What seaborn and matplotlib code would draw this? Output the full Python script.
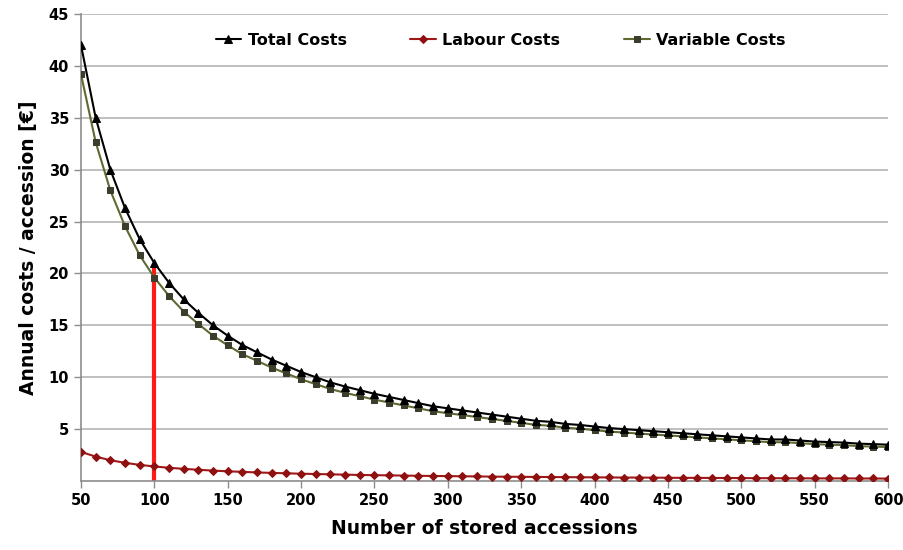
import numpy as np
import pandas as pd
import matplotlib
matplotlib.use("Agg")
import matplotlib.pyplot as plt
import seaborn as sns

# number of stored accessions (every 10)
accessions = list(range(50, 610, 10))

total_costs = [42.0, 35.0, 30.0, 26.3, 23.3, 21.0, 19.1, 17.5, 16.2, 15.0,
               14.0, 13.1, 12.4, 11.7, 11.1, 10.5, 10.0, 9.5, 9.1, 8.75,
               8.4, 8.1, 7.8, 7.5, 7.2, 7.0, 6.8, 6.6, 6.4, 6.2,
               6.0, 5.8, 5.7, 5.5, 5.4, 5.25, 5.1, 5.0, 4.9, 4.8,
               4.7, 4.6, 4.5, 4.4, 4.3, 4.2, 4.1, 4.0, 4.0, 3.9,
               3.8, 3.75, 3.7, 3.6, 3.55, 3.5]

labour_costs = [2.8, 2.35, 2.0, 1.75, 1.55, 1.4, 1.27, 1.17, 1.08, 1.0,
                0.93, 0.88, 0.82, 0.78, 0.74, 0.7, 0.67, 0.64, 0.61, 0.58,
                0.56, 0.54, 0.52, 0.5, 0.48, 0.47, 0.45, 0.44, 0.42, 0.41,
                0.4, 0.39, 0.38, 0.37, 0.36, 0.35, 0.34, 0.33, 0.33, 0.32,
                0.31, 0.3, 0.3, 0.29, 0.29, 0.28, 0.27, 0.27, 0.26, 0.26,
                0.25, 0.25, 0.25, 0.24, 0.24, 0.23]

variable_costs = [39.2, 32.65, 28.0, 24.55, 21.75, 19.6, 17.83, 16.33, 15.12, 14.0,
                  13.07, 12.22, 11.58, 10.92, 10.36, 9.8, 9.33, 8.86, 8.49, 8.17,
                  7.84, 7.56, 7.28, 7.0, 6.72, 6.53, 6.35, 6.16, 5.98, 5.79,
                  5.6, 5.41, 5.32, 5.13, 5.04, 4.9, 4.76, 4.67, 4.57, 4.48,
                  4.39, 4.3, 4.2, 4.11, 4.01, 3.92, 3.83, 3.73, 3.74, 3.64,
                  3.55, 3.5, 3.45, 3.36, 3.31, 3.27]

marked_accessions = 100

df = pd.DataFrame({"accessions": accessions, "total": total_costs,
                   "labour": labour_costs, "variable": variable_costs})

sns.set_theme(style="white")
plt.rcParams['font.family'] = ['DejaVu Sans']
plt.rcParams['font.weight'] = 'bold'
plt.rcParams['text.color'] = 'black'
plt.rcParams['axes.labelcolor'] = 'black'
plt.rcParams['xtick.color'] = 'black'
plt.rcParams['ytick.color'] = 'black'

fig = plt.figure(figsize=(9.04, 5.5), dpi=100)
ax = fig.add_axes([0.0896, 0.1255, 0.8927, 0.849])

# horizontal grid
ax.set_ylim(0, 45)
ax.set_xlim(50, 600)
ax.set_yticks(range(5, 50, 5))
ax.set_xticks(range(50, 650, 50))
ax.yaxis.grid(True, color='#b4b4b4', linewidth=1.2)
ax.set_axisbelow(True)

# red marker line at 100 accessions
idx = accessions.index(marked_accessions)
ax.vlines(marked_accessions, 0, total_costs[idx], color='#ff1a1a', linewidth=3, zorder=2)

sns.lineplot(data=df, x="accessions", y="variable", ax=ax, color='#5d6a30', linewidth=1.5,
             marker='s', markersize=4.5, markerfacecolor='#3c3d2c', markeredgecolor='#3c3d2c',
             label="Variable Costs", zorder=3)
sns.lineplot(data=df, x="accessions", y="labour", ax=ax, color='#a01818', linewidth=1.5,
             marker='D', markersize=4, markerfacecolor='#8e1010', markeredgecolor='#8e1010',
             label="Labour Costs", zorder=3)
sns.lineplot(data=df, x="accessions", y="total", ax=ax, color='black', linewidth=1.5,
             marker='^', markersize=6, markerfacecolor='black', markeredgecolor='black',
             label="Total Costs", zorder=4)

for s in ['top', 'right']:
    ax.spines[s].set_visible(False)
for s in ['left', 'bottom']:
    ax.spines[s].set_color('#8c8c8c')
    ax.spines[s].set_linewidth(1.2)
ax.tick_params(axis='both', which='major', length=5, width=1, color='#8c8c8c',
               labelcolor='black', labelsize=10.5, direction='out', bottom=True, left=True)
for lab in ax.get_xticklabels() + ax.get_yticklabels():
    lab.set_fontweight('bold')

ax.set_xlabel("Number of stored accessions", fontsize=13.5, fontweight='bold', labelpad=8)
ax.set_ylabel("Annual costs / accession [\u20ac]", fontsize=13.5, fontweight='bold', labelpad=8)

handles, labels = ax.get_legend_handles_labels()
order = [2, 1, 0]
ax.legend([handles[i] for i in order], [labels[i] for i in order], loc='upper center',
          bbox_to_anchor=(0.52, 0.99), ncol=3, frameon=False, columnspacing=4.0,
          handlelength=1.6, handletextpad=0.4, prop={'weight': 'bold', 'size': 11.5})

plt.savefig("out.png", dpi=100)
plt.close()
